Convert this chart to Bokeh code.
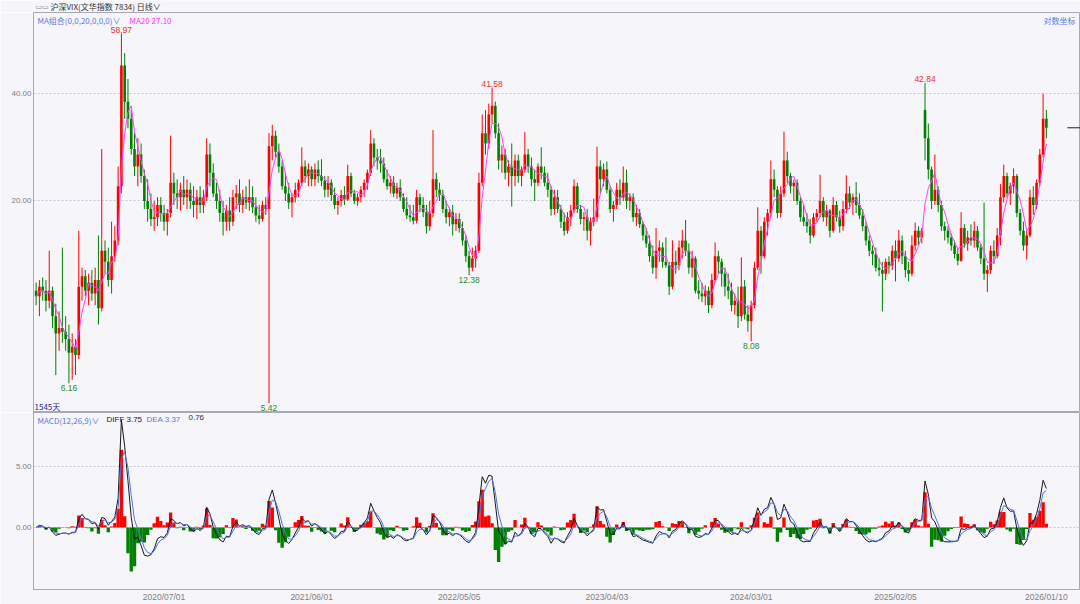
import numpy as np
import pandas as pd
from bokeh.plotting import figure
from bokeh.layouts import column
from bokeh.models import Range1d, FixedTicker, PrintfTickFormatter, Label, ColumnDataSource
from bokeh.core.properties import value
from bokeh.embed import file_html
from bokeh.resources import INLINE

# ---- data: 1545 trading days, aggregated to bars of 5 trading days ----
opens = [
    11.2, 10.8, 11.5, 11.2, 10.5, 11.2, 9.5, 8.5, 8.8, 8.6,
    8.2, 7.5, 7.8, 7.4, 11.5, 12.3, 11.2, 11.8, 11.0, 12.0,
    10.0, 14.5, 13.5, 12.0, 14.0, 15.5, 22.0, 48.0, 38.0, 34.0,
    28.0, 25.0, 27.0, 23.5, 20.0, 19.0, 17.8, 18.0, 19.5, 18.5,
    17.5, 18.5, 22.5, 21.0, 20.5, 21.5, 20.5, 21.5, 20.0, 19.5,
    20.5, 19.5, 20.5, 27.0, 24.0, 21.0, 20.0, 18.5, 17.5, 18.8,
    17.5, 20.5, 21.0, 19.5, 20.5, 19.8, 20.5, 19.2, 18.2, 17.8,
    19.5, 19.0, 28.5, 30.5, 27.5, 25.0, 22.0, 21.0, 19.8, 20.5,
    21.5, 22.5, 25.0, 23.5, 24.5, 23.0, 24.5, 23.5, 22.8, 21.5,
    22.5, 20.8, 19.5, 20.0, 20.8, 20.2, 23.5, 21.0, 20.0, 20.5,
    21.5, 22.5, 24.0, 29.0, 26.5, 26.0, 25.5, 23.0, 22.0, 22.5,
    21.0, 21.8, 20.5, 19.0, 18.2, 18.0, 17.6, 20.5, 19.5, 18.6,
    17.0, 18.5, 23.0, 21.5, 20.8, 19.0, 18.0, 18.6, 17.2, 17.8,
    16.8, 15.5, 14.0, 13.0, 13.8, 14.5, 22.5, 31.0, 29.0, 35.0,
    37.0, 31.0, 26.0, 27.0, 24.0, 25.0, 23.5, 26.0, 23.5, 24.5,
    27.0, 25.0, 23.0, 22.5, 25.0, 24.0, 22.5, 21.5, 19.0, 20.5,
    19.0, 17.5, 16.5, 18.0, 18.8, 22.0, 19.0, 17.8, 18.0, 16.5,
    17.5, 18.0, 25.0, 23.0, 24.5, 21.5, 19.0, 19.5, 21.5, 20.5,
    22.5, 20.0, 20.5, 18.0, 18.5, 17.2, 16.0, 15.2, 14.0, 13.0,
    14.5, 14.8, 13.5, 13.2, 11.5, 13.5, 13.2, 14.8, 15.5, 14.5,
    13.0, 13.8, 11.2, 11.0, 10.8, 11.2, 10.2, 12.0, 14.0, 13.5,
    12.5, 11.5, 11.2, 10.2, 10.5, 9.5, 11.5, 9.6, 9.2, 10.2,
    13.0, 16.5, 14.0, 17.5, 18.5, 23.0, 21.5, 18.5, 21.0, 26.0,
    23.5, 22.0, 22.5, 20.0, 18.0, 17.5, 17.0, 16.0, 18.0, 18.5,
    20.0, 18.0, 18.8, 16.5, 19.5, 18.0, 17.0, 19.0, 21.0, 19.8,
    20.5, 19.5, 18.2, 17.0, 15.5, 14.5, 14.2, 13.0, 12.8, 12.5,
    13.5, 13.2, 14.5, 13.8, 15.5, 14.0, 12.8, 12.5, 15.0, 16.5,
    15.8, 36.0, 30.0, 24.5, 20.0, 21.5, 19.5, 17.0, 16.5, 15.8,
    15.0, 14.2, 13.6, 16.8, 15.2, 15.8, 15.5, 16.5, 14.8, 13.8,
    12.5, 12.8, 14.5, 14.0, 16.0, 20.5, 23.5, 21.0, 22.0, 23.5,
    18.5, 16.5, 15.0, 16.0, 20.5, 19.5, 22.5, 27.0, 34.0,
]
highs = [
    11.8, 12.0, 12.2, 12.0, 14.5, 11.5, 10.3, 9.8, 14.8, 9.5,
    9.0, 8.5, 8.2, 16.5, 13.0, 12.8, 12.5, 12.8, 13.0, 16.0,
    28.0, 15.5, 14.8, 17.5, 17.0, 25.0, 58.97, 52.0, 44.0, 36.0,
    31.0, 30.0, 29.0, 24.5, 23.0, 21.0, 20.0, 20.5, 20.5, 19.5,
    19.0, 30.5, 24.0, 23.0, 22.5, 23.5, 23.0, 22.5, 22.0, 21.5,
    22.0, 21.5, 30.0, 29.0, 25.5, 22.5, 21.5, 20.0, 19.5, 20.5,
    21.5, 22.2, 23.0, 21.5, 22.0, 23.0, 22.0, 20.5, 19.5, 20.0,
    20.5, 31.0, 32.7, 31.5, 29.0, 26.0, 24.0, 22.5, 21.0, 22.5,
    23.0, 28.3, 26.0, 25.5, 25.0, 25.5, 26.0, 26.2, 23.5, 23.5,
    23.0, 21.8, 20.5, 21.5, 22.0, 25.3, 24.0, 21.5, 21.0, 22.0,
    23.0, 24.5, 31.6, 30.0, 28.0, 28.0, 26.5, 24.5, 23.5, 23.5,
    22.5, 23.0, 21.0, 20.5, 19.5, 19.5, 21.5, 21.0, 20.5, 19.5,
    20.0, 31.6, 24.0, 22.5, 21.5, 20.0, 19.2, 19.5, 18.5, 18.5,
    17.5, 16.0, 14.5, 14.8, 15.0, 24.0, 35.0, 36.0, 37.5, 41.58,
    38.0, 33.0, 28.6, 28.0, 26.0, 29.0, 27.0, 27.0, 25.0, 31.2,
    28.0, 26.5, 24.5, 25.5, 28.3, 25.0, 24.0, 22.0, 21.5, 21.5,
    19.5, 18.5, 18.6, 19.5, 23.0, 22.5, 19.5, 18.6, 19.0, 18.0,
    20.3, 28.4, 26.0, 25.5, 25.8, 22.0, 20.0, 22.5, 23.0, 25.0,
    24.5, 21.0, 21.0, 19.5, 19.0, 17.5, 16.8, 16.0, 15.0, 16.8,
    15.5, 15.3, 15.8, 13.5, 15.5, 14.5, 15.5, 16.6, 17.7, 15.2,
    14.5, 14.0, 12.0, 11.8, 11.6, 11.5, 12.5, 15.3, 14.5, 13.8,
    13.0, 12.5, 11.8, 11.0, 11.5, 13.9, 12.0, 10.2, 10.5, 13.5,
    19.2, 17.0, 18.0, 19.0, 26.0, 24.5, 22.0, 22.0, 31.3, 27.5,
    24.0, 23.0, 23.0, 20.5, 19.5, 18.5, 17.8, 18.5, 19.0, 23.7,
    20.5, 19.5, 19.0, 20.5, 20.0, 18.8, 20.0, 23.6, 22.0, 21.0,
    22.6, 21.0, 19.0, 17.5, 16.0, 15.0, 14.8, 13.8, 13.5, 13.8,
    14.0, 15.0, 15.5, 16.6, 16.0, 14.5, 13.5, 16.0, 17.4, 17.0,
    16.8, 42.84, 33.0, 25.0, 27.0, 22.0, 20.0, 17.5, 17.0, 16.2,
    15.5, 14.8, 18.6, 17.2, 16.5, 17.2, 17.5, 17.0, 15.2, 19.8,
    13.2, 15.0, 15.5, 16.8, 22.3, 25.3, 24.0, 22.5, 24.7, 23.8,
    19.0, 17.5, 16.5, 21.5, 22.0, 23.0, 28.0, 40.0, 36.0,
]
lows = [
    10.2, 9.5, 10.5, 9.8, 10.0, 8.8, 6.5, 7.6, 8.0, 7.6,
    6.16, 6.3, 6.5, 7.2, 10.5, 10.8, 10.2, 10.5, 10.2, 9.0,
    9.8, 12.5, 11.5, 11.0, 13.5, 15.0, 21.0, 34.0, 32.0, 27.0,
    23.5, 22.0, 22.5, 19.0, 17.5, 17.0, 16.5, 17.0, 17.5, 16.5,
    16.0, 18.0, 19.5, 19.0, 18.8, 19.5, 19.0, 19.0, 18.0, 17.8,
    18.5, 18.5, 20.0, 22.0, 20.5, 19.0, 17.5, 16.0, 16.5, 16.5,
    17.0, 19.0, 18.6, 18.5, 19.0, 18.8, 18.5, 17.5, 17.2, 17.5,
    18.3, 5.42, 26.0, 26.5, 24.0, 21.5, 20.0, 19.0, 18.0, 19.8,
    20.5, 22.0, 22.5, 22.0, 22.0, 22.0, 22.5, 22.0, 20.5, 20.5,
    20.0, 19.0, 18.3, 19.3, 19.5, 20.0, 20.5, 19.6, 19.4, 19.8,
    20.5, 21.5, 23.5, 25.0, 24.5, 24.0, 22.5, 21.5, 21.0, 20.5,
    20.3, 20.0, 18.6, 17.8, 17.5, 17.2, 17.3, 18.6, 18.0, 16.2,
    16.5, 18.0, 20.5, 20.0, 18.5, 17.3, 17.0, 16.0, 16.5, 16.3,
    15.0, 13.5, 12.38, 12.7, 13.0, 14.3, 22.0, 27.0, 28.0, 33.0,
    30.0, 24.5, 24.0, 23.0, 22.0, 19.3, 22.0, 22.5, 22.0, 24.0,
    24.0, 22.0, 20.0, 22.0, 23.0, 22.0, 20.5, 18.2, 18.3, 18.5,
    16.8, 16.0, 16.2, 17.0, 18.5, 18.5, 17.2, 16.5, 15.5, 15.0,
    17.0, 17.5, 21.0, 22.0, 21.0, 18.5, 17.5, 19.0, 19.5, 20.0,
    19.0, 18.8, 17.5, 17.0, 16.8, 15.5, 14.8, 13.5, 12.5, 12.1,
    13.5, 13.0, 13.0, 10.9, 11.3, 12.5, 12.8, 13.8, 14.0, 12.5,
    12.2, 11.0, 10.6, 10.4, 10.2, 9.7, 10.0, 11.8, 12.5, 11.5,
    10.8, 10.6, 9.8, 9.6, 8.8, 9.2, 9.3, 8.6, 8.08, 10.0,
    12.8, 12.5, 13.8, 16.0, 18.0, 20.5, 17.9, 18.0, 20.5, 22.5,
    21.0, 20.0, 19.5, 17.5, 17.0, 16.3, 15.2, 15.8, 17.5, 18.0,
    17.5, 17.0, 15.8, 16.3, 17.5, 16.3, 16.5, 18.5, 19.0, 18.3,
    18.5, 17.8, 16.5, 15.0, 14.0, 13.2, 12.7, 12.3, 9.8, 12.0,
    12.5, 12.8, 11.9, 13.5, 13.3, 12.2, 11.9, 12.3, 14.5, 15.0,
    15.2, 26.0, 23.0, 19.0, 19.5, 18.6, 16.5, 15.5, 15.2, 14.5,
    13.8, 13.2, 13.5, 14.8, 14.5, 15.0, 14.8, 14.5, 13.3, 12.0,
    11.1, 12.5, 13.3, 13.8, 15.0, 19.8, 20.5, 19.5, 21.0, 18.0,
    16.0, 14.5, 13.7, 15.8, 18.3, 19.0, 22.0, 26.5, 30.0,
]
closes = [
    10.8, 11.5, 11.2, 10.5, 11.2, 9.5, 8.5, 8.8, 8.6, 8.2,
    7.5, 7.8, 7.4, 11.5, 12.3, 11.2, 11.8, 11.0, 12.0, 10.0,
    14.5, 13.5, 12.0, 14.0, 15.5, 22.0, 48.0, 38.0, 34.0, 28.0,
    25.0, 27.0, 23.5, 20.0, 19.0, 17.8, 18.0, 19.5, 18.5, 17.5,
    18.5, 22.5, 21.0, 20.5, 21.5, 20.5, 21.5, 20.0, 19.5, 20.5,
    19.5, 20.5, 27.0, 24.0, 21.0, 20.0, 18.5, 17.5, 18.8, 17.5,
    20.5, 21.0, 19.5, 20.5, 19.8, 20.5, 19.2, 18.2, 17.8, 19.5,
    19.0, 28.5, 30.5, 27.5, 25.0, 22.0, 21.0, 19.8, 20.5, 21.5,
    22.5, 25.0, 23.5, 24.5, 23.0, 24.5, 23.5, 22.8, 21.5, 22.5,
    20.8, 19.5, 20.0, 20.8, 20.2, 23.5, 21.0, 20.0, 20.5, 21.5,
    22.5, 24.0, 29.0, 26.5, 26.0, 25.5, 23.0, 22.0, 22.5, 21.0,
    21.8, 20.5, 19.0, 18.2, 18.0, 17.6, 20.5, 19.5, 18.6, 17.0,
    18.5, 23.0, 21.5, 20.8, 19.0, 18.0, 18.6, 17.2, 17.8, 16.8,
    15.5, 14.0, 13.0, 13.8, 14.5, 22.5, 31.0, 29.0, 35.0, 37.0,
    31.0, 26.0, 27.0, 24.0, 25.0, 23.5, 26.0, 23.5, 24.5, 27.0,
    25.0, 23.0, 22.5, 25.0, 24.0, 22.5, 21.5, 19.0, 20.5, 19.0,
    17.5, 16.5, 18.0, 18.8, 22.0, 19.0, 17.8, 18.0, 16.5, 17.5,
    18.0, 25.0, 23.0, 24.5, 21.5, 19.0, 19.5, 21.5, 20.5, 22.5,
    20.0, 20.5, 18.0, 18.5, 17.2, 16.0, 15.2, 14.0, 13.0, 14.5,
    14.8, 13.5, 13.2, 11.5, 13.5, 13.2, 14.8, 15.5, 14.5, 13.0,
    13.8, 11.2, 11.0, 10.8, 11.2, 10.2, 12.0, 14.0, 13.5, 12.5,
    11.5, 11.2, 10.2, 10.5, 9.5, 11.5, 9.6, 9.2, 10.2, 13.0,
    16.5, 14.0, 17.5, 18.5, 23.0, 21.5, 18.5, 21.0, 26.0, 23.5,
    22.0, 22.5, 20.0, 18.0, 17.5, 17.0, 16.0, 18.0, 18.5, 20.0,
    18.0, 18.8, 16.5, 19.5, 18.0, 17.0, 19.0, 21.0, 19.8, 20.5,
    19.5, 18.2, 17.0, 15.5, 14.5, 14.2, 13.0, 12.8, 12.5, 13.5,
    13.2, 14.5, 13.8, 15.5, 14.0, 12.8, 12.5, 15.0, 16.5, 15.8,
    16.5, 30.0, 24.5, 20.0, 21.5, 19.5, 17.0, 16.5, 15.8, 15.0,
    14.2, 13.6, 16.8, 15.2, 15.8, 15.5, 16.5, 14.8, 13.8, 12.5,
    12.8, 14.5, 14.0, 16.0, 20.5, 23.5, 21.0, 22.0, 23.5, 18.5,
    16.5, 15.0, 16.0, 20.5, 19.5, 22.5, 27.0, 34.0, 32.1,
]

days_per_bar = 5
date_labels = ["2020/07/01", "2021/06/01", "2022/05/05", "2023/04/03",
               "2024/03/01", "2025/02/05", "2026/01/10"]
date_bars = [39, 84, 129, 174, 218, 262, 308]
price_ticks = [20, 40]
macd_ticks = [0, 5]
peak_values = [58.97, 41.58, 42.84]
trough_values = [6.16, 5.42, 12.38, 8.08]
title_text = "沪深VIX(文华指数 7834)   日线∨"
ma_text = "MA组合(0,0,20,0,0,0)∨"
ma_value_text = "MA20 27.10"
macd_text = "MACD(12,26,9)∨"
diff_text = "DIFF 3.75"
dea_text = "DEA 3.37"
hist_text = "0.76"
days_text = "1545天"
log_text = "对数坐标"

# ---- derived series ----
o = np.array(opens); h = np.array(highs); l = np.array(lows); c = np.array(closes)
n = len(c)
idx = np.arange(n)
up = c >= o
RED, GREEN = "#FF0000", "#008000"
colors = np.where(up, RED, GREEN)

cs = pd.Series(c)
ma20 = cs.rolling(20 // days_per_bar, min_periods=1).mean().values
a_fast = 1 - (11 / 13) ** days_per_bar
a_slow = 1 - (25 / 27) ** days_per_bar
span_sig = (9 - 1) / days_per_bar + 1
diff = cs.ewm(alpha=a_fast, adjust=False).mean() - cs.ewm(alpha=a_slow, adjust=False).mean()
dea = diff.ewm(span=span_sig, adjust=False).mean()
hist = 2 * (diff - dea)

BG = "#F5F5FA"
AX = "#A9A9B3"
LBL = "#808080"
BLUE = "#5B7BE0"
NUMFONT = "Liberation Sans"
CJK = "Noto Sans CJK SC"

xr = Range1d(-0.8, 318.4)

# ---- header strip ----
hdr = figure(width=1080, height=12, x_range=Range1d(0, 1), y_range=Range1d(0, 1),
             x_axis_location=None, y_axis_location=None, output_backend="svg", toolbar_location=None,
             min_border_left=0, min_border_right=0, min_border_top=0, min_border_bottom=0,
             background_fill_color=BG, border_fill_color=BG, outline_line_color=None)
hdr.grid.visible = False
hdr.add_layout(Label(x=2, y=6, x_units="screen", y_units="screen", text="▭▭",
                     text_baseline="middle", text_color="#888888", text_font="DejaVu Sans", text_font_size="7px"))
hdr.add_layout(Label(x=17, y=6, x_units="screen", y_units="screen", text=title_text,
                     text_baseline="middle", text_color="#333333", text_font=CJK, text_font_size="8px"))

# ---- main candlestick panel ----
p = figure(width=1080, height=400, x_range=xr, y_range=Range1d(5.10, 67.6),
           y_axis_type="log", x_axis_location=None,
           output_backend="svg", toolbar_location=None,
           min_border_left=33, min_border_right=0, min_border_top=0, min_border_bottom=0,
           background_fill_color=BG, border_fill_color=BG, outline_line_color=AX)

p.yaxis.ticker = FixedTicker(ticks=price_ticks)
p.yaxis.formatter = PrintfTickFormatter(format="%.2f")
p.yaxis.major_label_text_font = NUMFONT
p.yaxis.major_label_text_font_size = "8px"
p.yaxis.major_label_text_color = LBL
p.yaxis.axis_line_color = AX
p.yaxis.major_tick_line_color = None
p.yaxis.minor_tick_line_color = None
p.yaxis.major_tick_out = 0
p.yaxis.major_tick_in = 0
p.yaxis.major_label_standoff = 2
p.xgrid.visible = False
p.ygrid.grid_line_color = "#C8C8D2"
p.ygrid.grid_line_dash = "2 2"

src = ColumnDataSource(dict(x=idx, h=h, l=l, top=np.maximum(o, c), bottom=np.minimum(o, c), color=colors))
p.segment(x0="x", y0="h", x1="x", y1="l", line_color="color", line_width=1, source=src)
p.vbar(x="x", width=0.8, top="top", bottom="bottom", fill_color="color", line_color=None, source=src)
p.line(idx, ma20, line_color="#FF40FF", line_width=1)

for v in peak_values:
    i = int(np.argmin(np.abs(h - v)))
    p.text(x=[i], y=[h[i]], text=[f"{v:.2f}"], text_align="center", text_baseline="bottom",
           y_offset=-1, text_color="#F03030", text_font=value(NUMFONT), text_font_size="8.5px")
for v in trough_values:
    i = int(np.argmin(np.abs(l - v)))
    p.text(x=[i], y=[l[i]], text=[f"{v:.2f}"], text_align="center", text_baseline="top",
           y_offset=2, text_color="#2E8B2E", text_font=value(NUMFONT), text_font_size="8.5px")

# last price marker
p.segment(x0=[n - 1 + 6.4], x1=[xr.end], y0=[c[-1]], y1=[c[-1]], line_color="#222222", line_width=1)

ytop = p.y_range.end
p.add_layout(Label(x=4, y=ytop, x_units="screen", y_units="data", y_offset=-2, text=ma_text,
                   text_baseline="top", text_color=BLUE, text_font=CJK, text_font_size="8px"))
p.add_layout(Label(x=96, y=ytop, x_units="screen", y_units="data", y_offset=-2, text=ma_value_text,
                   text_baseline="top", text_color="#FF33FF", text_font=CJK, text_font_size="8px"))
p.add_layout(Label(x=1042, y=ytop, x_units="screen", y_units="data", y_offset=-2, text=log_text,
                   text_align="right", text_baseline="top", text_color=BLUE, text_font=CJK, text_font_size="8px"))
p.add_layout(Label(x=1, y=1, x_units="screen", y_units="screen", text=days_text,
                   text_baseline="bottom", text_color="#2828A0", text_font=CJK, text_font_size="8px"))

# ---- MACD panel ----
q = figure(width=1080, height=192, x_range=xr, y_range=Range1d(-5.1, 9.47),
           output_backend="svg", toolbar_location=None,
           min_border_left=33, min_border_right=0, min_border_top=0, min_border_bottom=0,
           background_fill_color=BG, border_fill_color=BG, outline_line_color=AX)
q.yaxis.ticker = FixedTicker(ticks=macd_ticks)
q.yaxis.formatter = PrintfTickFormatter(format="%.2f")
q.yaxis.major_label_text_font = NUMFONT
q.yaxis.major_label_text_font_size = "8px"
q.yaxis.major_label_text_color = LBL
q.yaxis.axis_line_color = AX
q.yaxis.major_tick_line_color = None
q.yaxis.minor_tick_line_color = None
q.yaxis.major_tick_out = 0
q.yaxis.major_tick_in = 0
q.yaxis.major_label_standoff = 2
q.xaxis.ticker = FixedTicker(ticks=date_bars)
q.xaxis.major_label_overrides = {b: t for b, t in zip(date_bars, date_labels)}
q.xaxis.major_label_text_font = NUMFONT
q.xaxis.major_label_text_font_size = "8.5px"
q.xaxis.major_label_text_color = LBL
q.xaxis.axis_line_color = AX
q.xaxis.major_tick_line_color = None
q.xaxis.minor_tick_line_color = None
q.xaxis.major_tick_out = 0
q.xaxis.major_tick_in = 0
q.xaxis.major_label_standoff = 2
q.xgrid.visible = False
q.ygrid.grid_line_color = "#C8C8D2"
q.ygrid.grid_line_dash = "2 2"

hsrc = ColumnDataSource(dict(x=idx, top=hist.values, color=np.where(hist.values >= 0, RED, GREEN)))
q.vbar(x="x", width=1.02, top="top", bottom=0, fill_color="color", line_color=None, source=hsrc)
q.line(idx, diff.values, line_color="#1A1A1A", line_width=1)
q.line(idx, dea.values, line_color="#4F74E3", line_width=1)

mtop = q.y_range.end
for xs, t, col in [(4, macd_text, BLUE), (73, diff_text, "#1A1A1A"), (113, dea_text, BLUE), (155, hist_text, "#333333")]:
    q.add_layout(Label(x=xs, y=mtop, x_units="screen", y_units="data", y_offset=-2, text=t,
                       text_baseline="top", text_color=col,
                       text_font=(CJK if "∨" in t else NUMFONT), text_font_size="8px"))

layout = column(hdr, p, q, spacing=0)
open("out.html", "w").write(file_html(layout, INLINE))
